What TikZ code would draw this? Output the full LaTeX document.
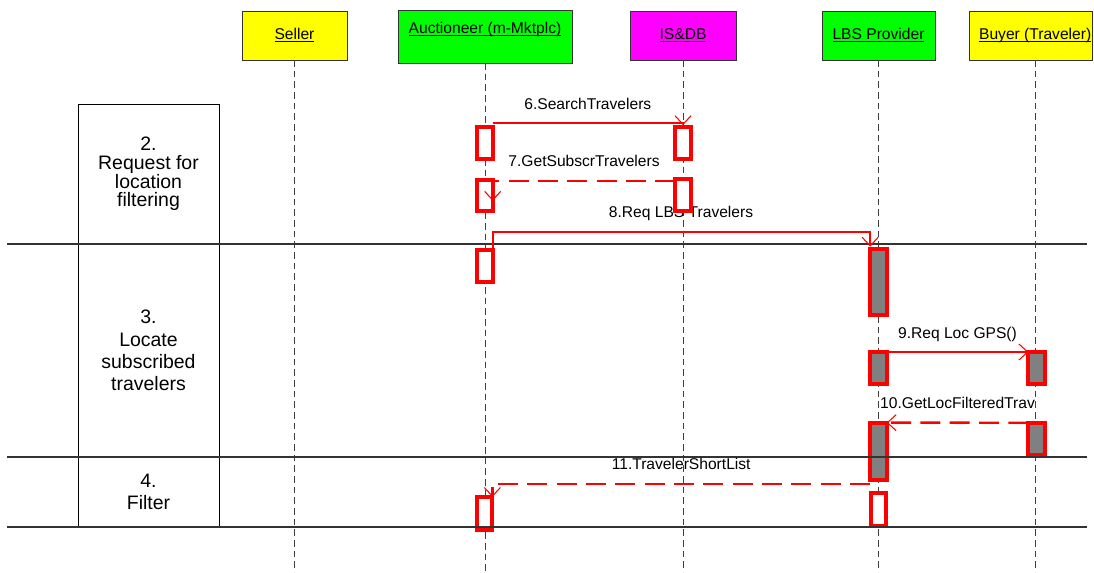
\documentclass[tikz,border=0pt]{standalone}
\usepackage{fontspec}
\setmainfont{Liberation Sans}
\usetikzlibrary{arrows.meta}

\definecolor{hdryellow}{RGB}{255,255,0}
\definecolor{hdrgreen}{RGB}{0,255,0}
\definecolor{hdrmagenta}{RGB}{255,0,255}
\newcommand{\ulname}[1]{\underline{\raisebox{0pt}[\height][0pt]{#1}}}

\begin{document}
\begin{tikzpicture}[x=0.75pt,y=-0.75pt,
  every node/.style={font=\fontsize{11.7}{14}\selectfont, inner sep=0pt, outer sep=0pt},
  hdr/.style={draw=black!80, line width=0.75pt, minimum height=36.75pt, fill=#1},
  phase/.style={draw=black, line width=0.75pt, minimum width=105.75pt, align=center, font=\fontsize{14.6}{16.8}\selectfont},
  life/.style={draw=black!75, line width=0.75pt, dash pattern=on 5pt off 3pt},
  sepline/.style={draw=black!80, line width=1pt},
  act/.style={draw=red, line width=3pt, fill=white, minimum width=11.5pt, minimum height=#1},
  act/.default=24pt,
  busy/.style={act=#1, fill=black!50, minimum width=12.5pt},
  busy/.default=24pt,
  msg/.style={red, line width=1.5pt, -{Straight Barb[length=6.5pt,width=12pt,line width=0.8pt]}},
  reply/.style={msg, line width=1.8pt, dash pattern=on 15pt off 7pt},
  lbl/.style={anchor=base, yshift=10.5pt, text=black}]
  \useasboundingbox (0,0) rectangle (1094,572);

  \node[hdr=hdryellow, minimum width=78.75pt] (seller) at (294.5,35.5) {\ulname{Seller}};
  \node[hdr=hdrgreen, minimum width=130.5pt, minimum height=39.75pt, text height=8.5pt, text depth=13.3pt] (auct) at (485,36.5) {\ulname{Auctioneer (m-Mktplc)}};
  \node[hdr=hdrmagenta, minimum width=79.5pt] (isdb) at (683,35.5) {\ulname{IS\&DB}};
  \node[hdr=hdrgreen, minimum width=84.75pt] (lbs) at (878.5,35.5) {\ulname{LBS Provider}};
  \node[hdr=hdryellow, minimum width=92.25pt] (buyer) at (1030.5,35.5) {\hspace*{7pt}\ulname{Buyer (Traveler)}};

  \foreach \n in {seller,auct,isdb,lbs}
    \draw[life] (\n.south) -- (\n.south |- 0,572);
  \draw[life] ([xshift=4.1pt]buyer.south) -- ([xshift=4.1pt]buyer.south |- 0,572);

  \node[phase, minimum height=105pt, font=\fontsize{14.6}{14}\selectfont] (ph2) at (148.5,174) {2.\\Request for\\location\\filtering};
  \node[phase, minimum height=159.75pt] (ph3) at (148.5,350.5) {3.\\Locate\\subscribed\\travelers};
  \node[phase, minimum height=52.5pt] (ph4) at (148.5,492) {4.\\Filter};

  \node[lbl] (m8) at (681,231.7) {8.Req LBS Travelers};

  \node[act] (a1) at (485,142.5) {};
  \node[act] (i1) at (683,142.5) {};
  \node[act=23.6pt] (a2) at (485,195.5) {};
  \node[act=23.6pt] (i2) at (683,195.2) {};
  \node[act=24.5pt] (a3) at (485,266) {};
  \node[busy=49.5pt] (l1) at (878.5,281.7) {};
  \node[busy] (l2) at (878.3,368) {};
  \node[busy] (b1) at (1036.7,368) {};
  \node[busy=42.8pt] (l3) at (878.3,451.2) {};
  \node[busy] (b2) at (1036.7,438.7) {};
  \node[act=24.5pt] (a4) at (484.7,513.3) {};
  \node[act=25pt] (l4) at (878.8,509.7) {};

  \foreach \y in {244,457,527}
    \draw[sepline] (7,\y) -- (1087,\y);

  \draw[msg] ([yshift=2.5pt]a1.north east) -- node[lbl]{6.SearchTravelers} ([yshift=2.5pt]i1.north) -- ([yshift=1pt]i1.north);
  \draw[reply] ([yshift=-1pt]i2.north west) -- node[lbl]{7.GetSubscrTravelers} ([yshift=-1pt]i2.north west -| a2.east) -- ([yshift=-4pt]a2.east);
  \draw[msg] (a3.north east) -- ++(0,-18) -| ([yshift=1.5pt]l1.north west);
  \draw[msg] (l2.north east) -- node[lbl]{9.Req Loc GPS()} (b1.north west);
  \draw[reply] (b2.north west) -- node[lbl]{10.GetLocFilteredTrav} (l3.north east);
  \draw[reply] ([yshift=-3pt]l3.south west) -- node[lbl]{11.TravelerShortList} ([yshift=-3pt]l3.south west -| a4.north east) -- (a4.north east);
\end{tikzpicture}
\end{document}
